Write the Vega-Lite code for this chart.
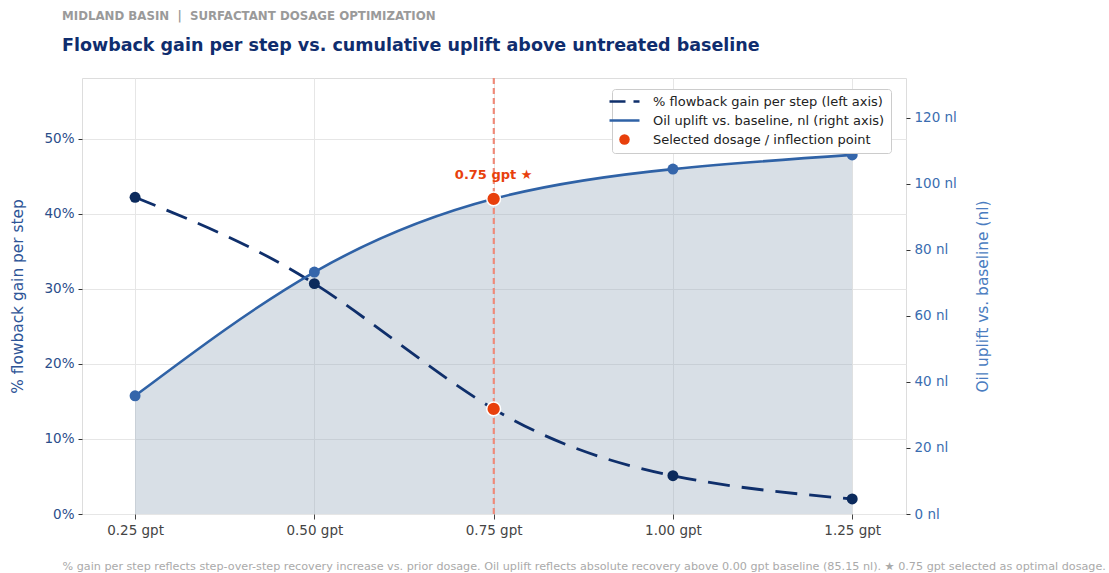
{
  "$schema": "https://vega.github.io/schema/vega-lite/v6.json",
  "width": 824,
  "height": 436,
  "autosize": {"type": "none"},
  "padding": {"left": 82, "top": 78, "right": 203, "bottom": 59},
  "background": "white",
  "config": {"font": "DejaVu Sans", "view": {"stroke": "#dddddd"}},
  "title": {
    "text": "MIDLAND BASIN\u00a0\u00a0|\u00a0\u00a0SURFACTANT DOSAGE OPTIMIZATION",
    "subtitle": "Flowback gain per step vs. cumulative uplift above untreated baseline",
    "anchor": "start",
    "frame": "group",
    "dx": -20,
    "offset": 23,
    "font": "DejaVu Sans",
    "fontSize": 11.8,
    "fontWeight": "bold",
    "color": "#9a9a9a",
    "subtitleFont": "DejaVu Sans",
    "subtitleFontSize": 17.5,
    "subtitleFontWeight": "bold",
    "subtitleColor": "#0f2d6e",
    "subtitlePadding": 14
  },
  "data": {
    "values": [
      {"dose": 0.25, "gain": 42.2, "uplift": 35.8},
      {"dose": 0.5, "gain": 30.7, "uplift": 73.3},
      {"dose": 0.75, "gain": 14.0, "uplift": 95.5},
      {"dose": 1.0, "gain": 5.1, "uplift": 104.5},
      {"dose": 1.25, "gain": 2.0, "uplift": 108.8}
    ]
  },
  "encoding": {
    "x": {
      "field": "dose",
      "type": "quantitative",
      "scale": {"domain": [0.176, 1.325], "nice": false, "zero": false},
      "axis": {
        "values": [0.25, 0.5, 0.75, 1.0, 1.25],
        "labelExpr": "format(datum.value, '.2f') + ' gpt'",
        "grid": true,
        "gridColor": "#e6e6e6",
        "domain": false,
        "tickColor": "#444444",
        "tickSize": 5,
        "labelPadding": 4,
        "labelColor": "#444444",
        "labelFontSize": 13.5,
        "title": "% gain per step reflects step-over-step recovery increase vs. prior dosage. Oil uplift reflects absolute recovery above 0.00 gpt baseline (85.15 nl). ★ 0.75 gpt selected as optimal dosage.",
        "titleFontSize": 11.2,
        "titleFontWeight": "normal",
        "titleColor": "#aaaaaa",
        "titleX": -20,
        "titleY": 55,
        "titleAlign": "left",
        "titleAnchor": "start",
        "titleBaseline": "alphabetic",
        "titleLimit": 0
      }
    }
  },
  "layer": [
    {
      "encoding": {
        "y": {
          "field": "uplift",
          "type": "quantitative",
          "scale": {"domain": [0, 132.1], "nice": false},
          "axis": null
        }
      },
      "layer": [
        {"mark": {"type": "area", "interpolate": "natural", "color": "#8fa3b8", "opacity": 0.35}},
        {
          "mark": {"type": "rule", "color": "#ef8a78", "strokeDash": [6, 4], "strokeWidth": 1.4},
          "encoding": {"x": {"datum": 0.75, "type": "quantitative"}, "y": null}
        }
      ]
    },
    {
      "encoding": {
        "y": {
          "field": "gain",
          "type": "quantitative",
          "scale": {"domain": [0, 58.1], "nice": false},
          "axis": {
            "orient": "left",
            "values": [0, 10, 20, 30, 40, 50],
            "labelExpr": "datum.value + '%'",
            "grid": true,
            "gridColor": "#e6e6e6",
            "domain": false,
            "tickColor": "#333333",
            "tickSize": 4,
            "labelPadding": 4,
            "labelColor": "#2a4d8a",
            "labelFontSize": 13.5,
            "title": "% flowback gain per step",
            "titleColor": "#2e5597",
            "titleFontSize": 15.4,
            "titleFontWeight": "normal",
            "titlePadding": 18
          }
        }
      },
      "layer": [
        {
          "mark": {"type": "line", "interpolate": "natural", "strokeDash": [22, 12], "strokeWidth": 2.8},
          "encoding": {"color": {"datum": "% flowback gain per step (left axis)"}}
        },
        {"mark": {"type": "point", "filled": true, "opacity": 1, "size": 120, "color": "#0b2a5c"}},
        {
          "transform": [{"filter": "datum.dose == 0.75"}],
          "mark": {"type": "circle", "size": 190, "opacity": 1, "stroke": "white", "strokeWidth": 1.5},
          "encoding": {"color": {"datum": "Selected dosage / inflection point"}}
        }
      ]
    },
    {
      "encoding": {
        "y": {
          "field": "uplift",
          "type": "quantitative",
          "scale": {"domain": [0, 132.1], "nice": false},
          "axis": {
            "orient": "right",
            "values": [0, 20, 40, 60, 80, 100, 120],
            "labelExpr": "datum.value + ' nl'",
            "grid": false,
            "domain": false,
            "tickColor": "#333333",
            "tickSize": 4,
            "labelPadding": 4,
            "labelColor": "#3a6db0",
            "labelFontSize": 13.5,
            "title": "Oil uplift vs. baseline (nl)",
            "titleColor": "#4a7cc0",
            "titleFontSize": 15.4,
            "titleFontWeight": "normal",
            "titleAngle": 270,
            "titlePadding": 34
          }
        }
      },
      "layer": [
        {
          "mark": {"type": "line", "interpolate": "natural", "strokeWidth": 2.6},
          "encoding": {
            "color": {
              "datum": "Oil uplift vs. baseline, nl (right axis)",
              "scale": {
                "domain": ["% flowback gain per step (left axis)", "Oil uplift vs. baseline, nl (right axis)", "Selected dosage / inflection point"],
                "range": ["#0f2f6b", "#2f62a6", "#e8400c"]
              },
              "legend": {
                "title": null,
                "orient": "none",
                "legendX": 530,
                "legendY": 11,
                "fillColor": "white",
                "strokeColor": "#cccccc",
                "padding": 6,
                "cornerRadius": 3,
                "labelFontSize": 13,
                "labelColor": "#222222",
                "labelOffset": 22,
                "labelLimit": 0,
                "rowPadding": 5,
                "symbolSize": 900,
                "symbolStrokeWidth": 2.5,
                "encode": {
                  "symbols": {
                    "update": {
                      "shape": {"signal": "datum.value === 'Selected dosage / inflection point' ? 'circle' : 'stroke'"},
                      "size": {"signal": "datum.value === 'Selected dosage / inflection point' ? 110 : 900"},
                      "strokeDash": {"signal": "datum.value === '% flowback gain per step (left axis)' ? [16, 8] : [1, 0]"},
                      "fill": {"signal": "datum.value === 'Selected dosage / inflection point' ? '#e8400c' : 'transparent'"},
                      "stroke": {"signal": "datum.value === 'Selected dosage / inflection point' ? '#e8400c' : (datum.value === '% flowback gain per step (left axis)' ? '#0f2f6b' : '#2f62a6')"},
                      "strokeWidth": {"signal": "datum.value === 'Selected dosage / inflection point' ? 0 : 2.5"},
                      "opacity": {"value": 1}
                    }
                  }
                }
              }
            }
          }
        },
        {"mark": {"type": "point", "filled": true, "opacity": 1, "size": 120, "color": "#3566ab"}},
        {
          "transform": [{"filter": "datum.dose == 0.75"}],
          "mark": {"type": "circle", "size": 190, "opacity": 1, "stroke": "white", "strokeWidth": 1.5},
          "encoding": {"color": {"datum": "Selected dosage / inflection point"}}
        },
        {
          "transform": [{"filter": "datum.dose == 0.75"}],
          "mark": {"type": "text", "dy": -20, "baseline": "alphabetic", "align": "center", "fontSize": 13, "fontWeight": "bold", "color": "#e8400c"},
          "encoding": {"text": {"value": "0.75 gpt ★"}}
        }
      ]
    }
  ],
  "resolve": {"scale": {"y": "independent"}}
}
